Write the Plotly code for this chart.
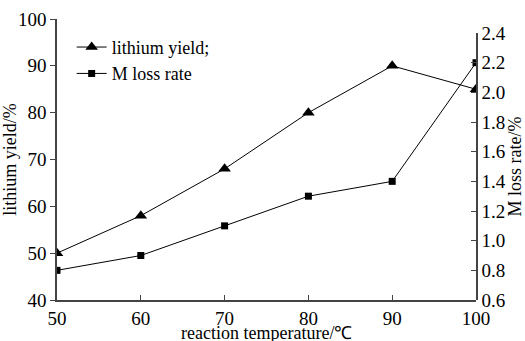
import plotly.graph_objects as go

temperature = [50, 60, 70, 80, 90, 100]
lithium_yield = [50, 58, 68, 80, 90, 85]
m_loss_rate = [0.8, 0.9, 1.1, 1.3, 1.4, 2.2]

x_ticks = [50, 60, 70, 80, 90, 100]
left_ticks = [40, 50, 60, 70, 80, 90, 100]
right_ticks = [0.6, 0.8, 1.0, 1.2, 1.4, 1.6, 1.8, 2.0, 2.2, 2.4]

x_title = "reaction temperature/℃"

FONT = "Liberation Serif"
AX = "#444444"

fig = go.Figure()
fig.add_trace(go.Scatter(
    x=temperature, y=lithium_yield, mode="lines+markers", name="lithium yield;",
    line=dict(color="black", width=1),
    marker=dict(symbol="triangle-up", size=11, color="black"),
))
fig.add_trace(go.Scatter(
    x=temperature, y=m_loss_rate, mode="lines+markers", name="M loss rate",
    yaxis="y2",
    line=dict(color="black", width=1),
    marker=dict(symbol="square", size=7, color="black"),
))

fig.add_annotation(text=x_title, xref="paper", yref="paper", x=0.5, y=-0.118,
                   xanchor="center", yanchor="middle", showarrow=False,
                   font=dict(family=FONT, size=18, color="black"))

fig.update_layout(
    width=525, height=341,
    margin=dict(l=57, r=49, t=19, b=41, autoexpand=False),
    paper_bgcolor="white", plot_bgcolor="rgba(0,0,0,0)",
    font=dict(family=FONT, size=18, color="black"),
    showlegend=True,
    legend=dict(x=0.035, y=0.965, xanchor="left", yanchor="top",
                font=dict(family=FONT, size=18, color="black"),
                bgcolor="rgba(0,0,0,0)", tracegroupgap=0, itemwidth=30),
    xaxis=dict(range=[50, 100], tickvals=x_ticks, ticks="inside", ticklen=5,
               tickcolor=AX, showline=True, linecolor=AX, linewidth=1.5,
               showgrid=False, zeroline=False, automargin=False,
               tickfont=dict(family=FONT, size=19)),
    yaxis=dict(range=[40, 100], tickvals=left_ticks, ticks="outside", ticklen=5,
               tickcolor=AX, showline=True, linecolor=AX, linewidth=1.5,
               showgrid=False, zeroline=False, automargin=False,
               tickfont=dict(family=FONT, size=19),
               title=dict(text="lithium yield/%", font=dict(family=FONT, size=18), standoff=0)),
    yaxis2=dict(range=[0.6, 2.4], tickvals=right_ticks, tickformat=".1f",
                domain=[0, 0.95], anchor="x", side="right",
                ticks="inside", ticklen=5, tickcolor=AX,
                showline=True, linecolor=AX, linewidth=1.5,
                showgrid=False, zeroline=False, automargin=False,
                tickfont=dict(family=FONT, size=19),
                title=dict(text="M loss rate/%", font=dict(family=FONT, size=18), standoff=3)),
)

fig.write_html("out.html")
